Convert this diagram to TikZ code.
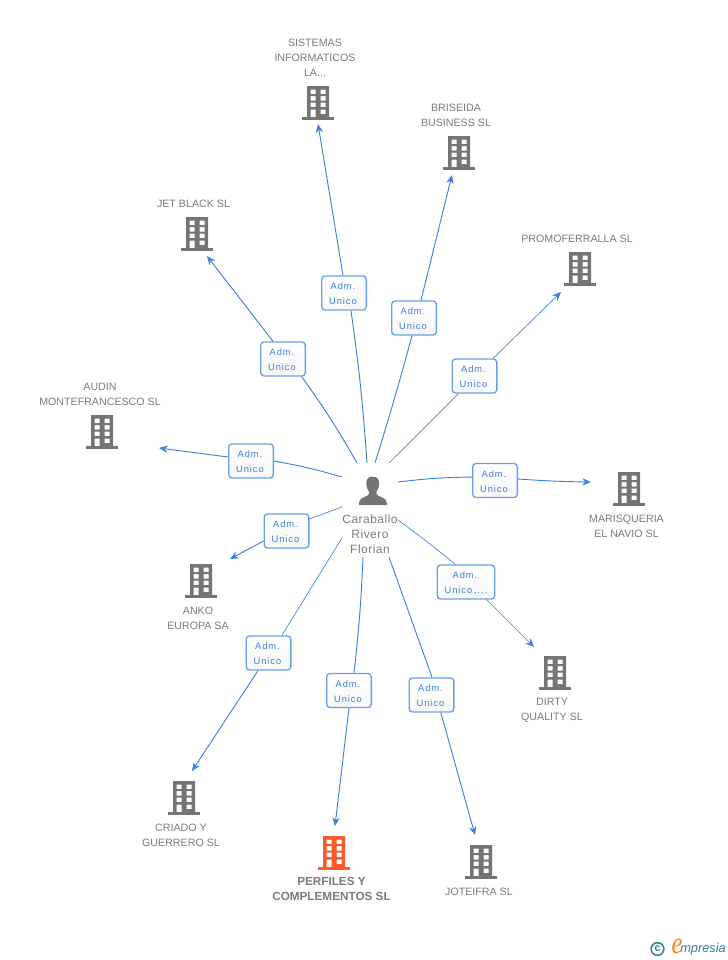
\documentclass[tikz,border=0pt]{standalone}
\usepackage{fontspec}
\setmainfont{Liberation Sans}
\newfontfamily\boxfont[LetterSpace=10]{Liberation Sans}
\newfontfamily\personfont[LetterSpace=4]{Liberation Sans}
\newfontfamily\logofont{Liberation Serif}
\usetikzlibrary{arrows.meta}
\definecolor{linkblue}{HTML}{3F80DE}
\definecolor{boxblue}{HTML}{6A9FE6}
\definecolor{boxtext}{HTML}{3A7DDC}
\definecolor{iconGrey}{HTML}{747474}
\definecolor{textGrey}{HTML}{7A7A7A}
\definecolor{mainOrange}{HTML}{FF5A2B}
\definecolor{logoTeal}{HTML}{3A7F96}
\definecolor{logoOrange}{HTML}{F08A1E}
\newcommand{\roleA}{\rule{0pt}{6.5pt}Adm.\kern1.5pt\\Unico\kern1.5pt}
\tikzset{
  x=0.75pt,y=-0.75pt,
  company/.style={font=\fontsize{8}{11.25}\selectfont,text=textGrey,align=center,inner sep=0pt},
  rolebox/.style={draw=boxblue,line width=1pt,rounded corners=2.5pt,top color=white,bottom color=white!97!black,
    minimum width=33.5pt,minimum height=25.5pt,inner sep=0pt,align=center,text=boxtext,
    font=\boxfont\fontsize{7}{11.25}\selectfont},
  link/.style={draw=linkblue,line width=0.7pt},
  thinlink/.style={draw=linkblue,line width=0.5pt},
  tipped/.style={-{Stealth[length=6.5pt,width=5.5pt]}},
  building/.pic={
    \fill[pic actions,even odd rule]
      (-11,0) rectangle (11,31.5)
      (-7.5,3.5) rectangle (-2.5,8) (2.5,3.5) rectangle (7.5,8)
      (-7.5,10) rectangle (-2.5,14.5) (2.5,10) rectangle (7.5,14.5)
      (-7.5,16.5) rectangle (-2.5,21) (2.5,16.5) rectangle (7.5,21)
      (-7.5,23.5) rectangle (-2.5,31.5) (2.5,23.5) rectangle (7.5,28);
    \fill[pic actions] (-16,31) rectangle (16,34);
  }
}
\begin{document}
\begin{tikzpicture}
\useasboundingbox (0,0) rectangle (728,960);
% person
\fill[iconGrey] (372.7,476.5) .. controls (367.5,476.5) and (366,480.5) .. (366.3,484)
  .. controls (366.5,488) and (368.5,491) .. (369.5,492.5) .. controls (369.8,495) and (367,496) .. (364,497.2)
  .. controls (360,498.5) and (359,501) .. (359,505) -- (387,505)
  .. controls (387,501) and (385.5,498.5) .. (381.5,497.2)
  .. controls (378.5,496) and (375.8,495) .. (376,492.5) .. controls (377,491) and (379,488) .. (379.2,484)
  .. controls (379.5,480.5) and (378,476.5) .. (372.7,476.5) -- cycle;
\node[company,font=\personfont\fontsize{9}{11.25}\selectfont] (person) at (370,534) {Caraballo\\Rivero\\Florian};
% free ends of the connectors
\foreach \n/\x/\y in {s1/367/463,s2/375/463,s3/389/463,s4/398/482,s5/398/520,s6/389/557,s7/363/557,s8/342/538,s9/342/507,s10/342/477,s11/357/463,
  e1/318/124,e2/452/175,e3/561/292,e4/591/482,e5/534/647,e6/475/835,e7/335/826,e8/192/771,e9/230/559,e10/159/448,e11/207/256}
  \coordinate (\n) at (\x,\y);
% buildings
\foreach \x/\y in {318/86,459/136,580/252,197/217,102/415,629/472,555/656,481/845,184/781,201/564}
  \pic[iconGrey] at (\x,\y) {building};
\pic[mainOrange] at (334,836) {building};
% role boxes
\node[rolebox] (r1) at (344,293) {\roleA};
\node[rolebox] (r2) at (414,318) {\roleA};
\node[rolebox] (r3) at (474.5,376) {\roleA};
\node[rolebox] (r4) at (495,480.5) {\roleA};
\node[rolebox,minimum width=43.2pt] (r5) at (466,582) {\roleA,...};
\node[rolebox] (r6) at (431.5,695) {\roleA};
\node[rolebox] (r7) at (349,690.5) {\roleA};
\node[rolebox] (r8) at (268.5,653) {\roleA};
\node[rolebox] (r9) at (286.5,531) {\roleA};
\node[rolebox] (r10) at (251,461) {\roleA};
\node[rolebox] (r11) at (283,359) {\roleA};
% connectors
\draw[link] (s1) to[bend right=2] ([xshift=5.25pt]r1.south);
\draw[link,tipped] ([xshift=-0.75pt]r1.north) -- (e1);
\draw[link] (s2) to[bend right=1] ([xshift=-1.5pt]r2.south);
\draw[link,tipped] ([xshift=5.25pt]r2.north) -- (e2);
\draw[thinlink] (s3) -- ([xshift=-12pt]r3.south);
\draw[thinlink,tipped] ([xshift=14pt]r3.north) -- (e3);
\draw[link] (s4) to[bend left=3] ([yshift=2.6pt]r4.west);
\draw[link,tipped] ([yshift=1.1pt]r4.east) to[bend right=1.5] (e4);
\draw[thinlink] (s5) to[bend left=1.5] ([xshift=-8pt]r5.north);
\draw[thinlink,tipped] ([xshift=15.5pt]r5.south) -- (e5);
\draw[link] (s6) -- ([xshift=0.4pt]r6.north);
\draw[link,tipped] ([xshift=7pt]r6.south) -- (e6);
\draw[link] (s7) to[bend left=2] ([xshift=3.75pt]r7.north);
\draw[link,tipped] (r7.south) -- (e7);
\draw[thinlink] (s8) -- ([xshift=10pt]r8.north);
\draw[link,tipped] ([xshift=-7.9pt]r8.south) -- (e8);
\draw[thinlink] (s9) -- ([yshift=9pt]r9.east);
\draw[link,tipped] ([yshift=-7.5pt]r9.west) -- (e9);
\draw[link] (s10) to[bend right=3] (r10.east);
\draw[link,tipped] ([yshift=3pt]r10.west) -- (e10);
\draw[link] (s11) to[bend right=3] ([xshift=14pt]r11.south);
\draw[link,tipped] ([xshift=-7.5pt]r11.north) -- (e11);
% company labels
\node[company] (c1) at (315,57.5) {SISTEMAS\\INFORMATICOS\\LA...};
\node[company] (c2) at (456,115) {BRISEIDA\\BUSINESS SL};
\node[company] (c3) at (577,238.5) {PROMOFERRALLA SL};
\node[company] (c4) at (626.5,526) {MARISQUERIA\\EL NAVIO SL};
\node[company] (c5) at (552,710) {DIRTY\\QUALITY SL};
\node[company] (c6) at (479,891.5) {JOTEIFRA SL};
\node[company,font=\bfseries\fontsize{8.8}{11.25}\selectfont] (c7) at (331.5,888.6) {PERFILES Y\\COMPLEMENTOS SL};
\node[company] (c8) at (181,835) {CRIADO Y\\GUERRERO SL};
\node[company] (c9) at (198,618) {ANKO\\EUROPA SA};
\node[company] (c10) at (100,394) {AUDIN\\MONTEFRANCESCO SL};
\node[company] (c11) at (193.5,203.5) {JET BLACK SL};
% logo
\node[draw=logoTeal,line width=1.2pt,circle,minimum size=9.5pt,inner sep=0pt,text=logoTeal,font=\fontsize{8}{8}\selectfont\bfseries] (copy) at (657.5,949) {c};
\node[text=logoOrange,inner sep=0pt,anchor=base,xscale=0.8,transform shape,font=\logofont\itshape\fontsize{23}{23}\selectfont] (logoe) at (677,953.5) {e};
\node[text=logoTeal,inner sep=0pt,anchor=base west,font=\itshape\fontsize{9.6}{11}\selectfont] (logot) at (680,952.7) {mpresia};
\end{tikzpicture}
\end{document}
